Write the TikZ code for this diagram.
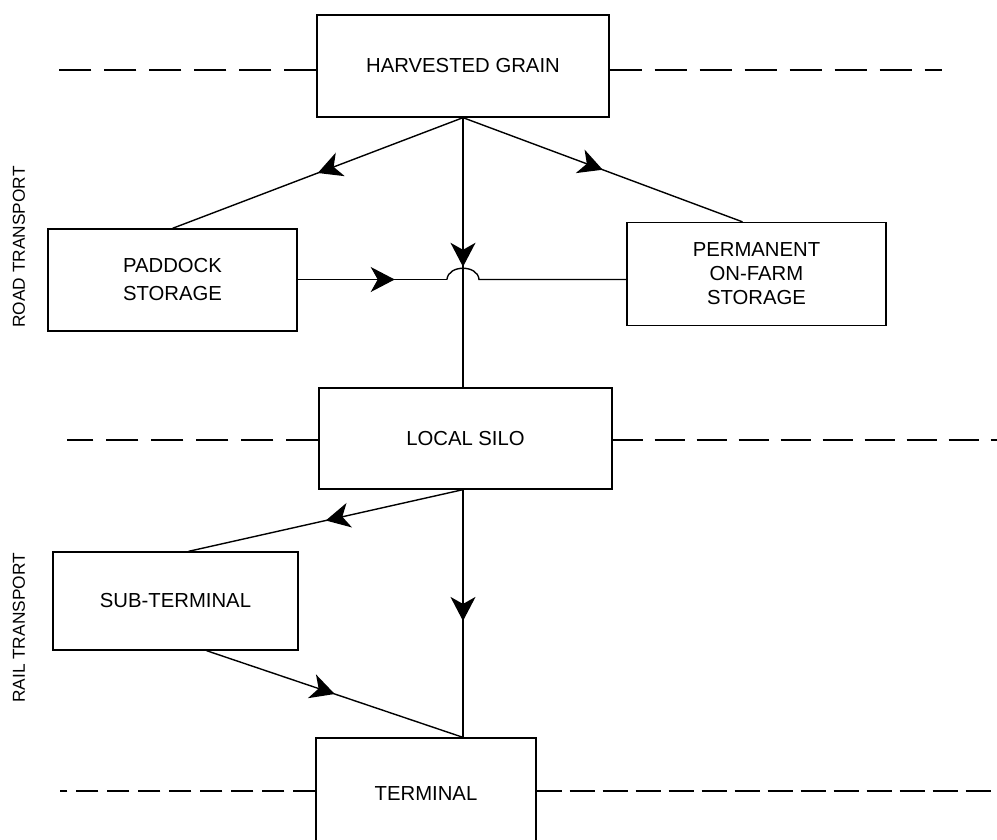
\documentclass[tikz,border=0pt]{standalone}
\usepackage{fontspec}
\setmainfont{Liberation Sans}
\usetikzlibrary{arrows.meta,decorations.markings,calc}
\tikzset{
 box/.style={draw,line width=1.3pt,inner sep=0pt,align=center,font=\fontsize{20.3}{28}\selectfont},
 flow/.style={line width=1.4pt},
 midarrow/.style={postaction={decorate},decoration={markings,mark=at position #1 with {\arrow{Stealth[length=24pt,width=25pt,inset=7pt]}}}},
 sepline/.style={line width=2.8pt, dash pattern=on 32pt off 13pt},
 sepdense/.style={line width=2.8pt, dash pattern=on 25pt off 8pt},
 side/.style={font=\fontsize{17.3}{19}\selectfont, rotate=90, inner sep=0pt}
}
\begin{document}
\begin{tikzpicture}[x=1pt,y=-1pt]
\useasboundingbox (0,0) rectangle (997,839);
\clip (0,0) rectangle (997,839);

% boxes
\node[box,minimum width=292pt,minimum height=102pt] (hg) at (463,66) {HARVESTED GRAIN};
\node[box,minimum width=249pt,minimum height=102pt] (pad) at (172.5,280) {PADDOCK\\STORAGE};
\node[box,minimum width=259pt,minimum height=103pt,font=\fontsize{20.3}{24}\selectfont] (perm) at (756.5,274) {PERMANENT\\ON-FARM\\STORAGE};
\node[box,minimum width=293pt,minimum height=101pt] (silo) at (465.5,438.5) {LOCAL SILO};
\node[box,minimum width=245pt,minimum height=98pt] (sub) at (175.5,601) {SUB-TERMINAL};
\node[box,minimum width=220pt,minimum height=112pt] (term) at (426,794) {TERMINAL};

% side labels
\node[side] (road) at (19,247) {ROAD TRANSPORT};
\node[side] (rail) at (19,628) {RAIL TRANSPORT};

% dashed separators
\coordinate (hgL) at (55,70);
\coordinate (hgR) at (942,70);
\coordinate (siloL) at (67,440);
\coordinate (siloR) at (997,440);
\coordinate (termL) at (60,791);
\coordinate (termR) at (997,791);
\draw[sepline] (hg.west |- hgL) -- (hgL);
\draw[sepline] (hg.east |- hgR) -- (hgR);
\draw[sepline] (silo.west |- siloL) -- (siloL);
\draw[sepline,dash pattern=on 30pt off 12pt] (silo.east |- siloR) -- (siloR);
\draw[sepdense,dash pattern=on 22pt off 9pt] (term.west |- termL) -- (termL);
\draw[sepdense] (term.east |- termR) -- (termR);

% connectors
\coordinate (hgS) at (hg.south);
\draw[flow,midarrow=0.5] (hgS) -- (pad.north);
\draw[flow,midarrow=0.5] (hgS) -- ([xshift=-14pt]perm.north);
\draw[flow,midarrow=0.553] (hgS) -- (hgS |- silo.north);

\coordinate (padE) at ([yshift=0.5pt]pad.east);
\coordinate (hopL) at ($(hgS |- padE)+(-16,0)$);
\coordinate (hopR) at ($(hgS |- padE)+(16,0)$);
\draw[flow,midarrow=0.65] (padE) -- (hopL);
\draw[flow] (hopL) .. controls ($(hopL)+(1,-15)$) and ($(hopR)+(-1,-15)$) .. (hopR) -- (padE -| perm.west);

\coordinate (siloS) at (hgS |- silo.south);
\draw[flow,midarrow=0.5] (siloS) -- ([xshift=13pt]sub.north);
\draw[flow,midarrow=0.53] (siloS) -- (hgS |- term.north);
\draw[flow,midarrow=0.5] ([xshift=31pt]sub.south) -- (hgS |- term.north);
\end{tikzpicture}
\end{document}
